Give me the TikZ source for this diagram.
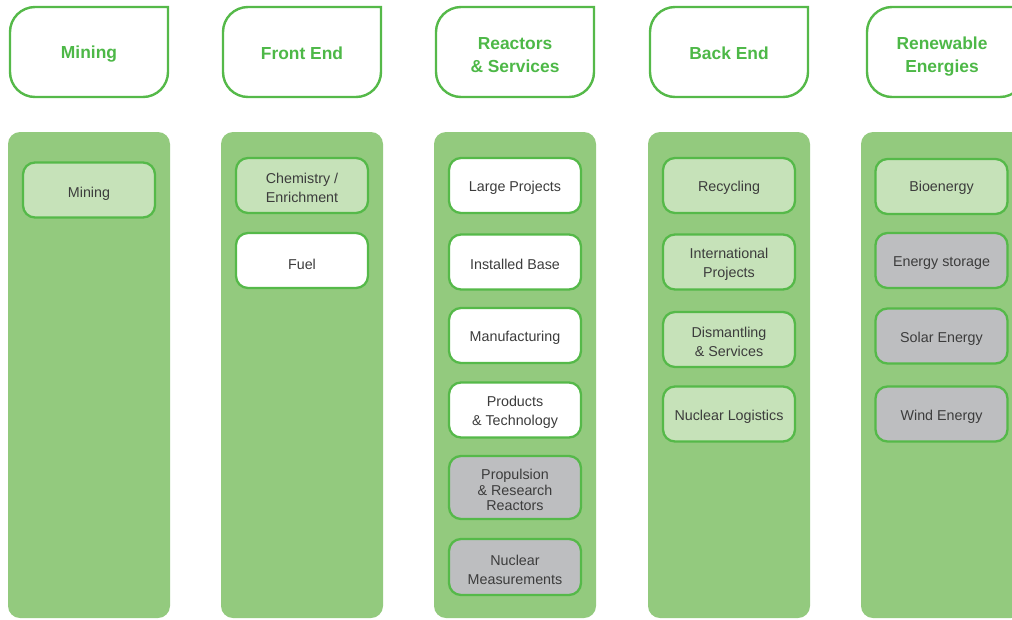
\documentclass[tikz,border=0pt]{standalone}
\usepackage{fontspec}
\setmainfont{Liberation Sans}
\definecolor{panelgreen}{HTML}{93CA7E}
\definecolor{leafgreen}{HTML}{C6E2B9}
\definecolor{edgegreen}{HTML}{55B949}
\definecolor{titlegreen}{HTML}{4DB847}
\definecolor{greybox}{HTML}{BDBEC0}
\definecolor{txt}{HTML}{3C3C3C}
% header tab: rounded on three corners, square at the top right
\newcommand{\headertab}[1]{%
  \draw[hdr] (#1+25,7) -- (#1+158,7) -- (#1+158,72)
    arc[start angle=0,end angle=90,radius=25] -- (#1+25,97)
    arc[start angle=90,end angle=180,radius=25] -- (#1,32)
    arc[start angle=180,end angle=270,radius=25] -- cycle;}
% a rounded item box with its label set slightly below the centre
% #1 label options, #2 box style, #3 name, #4 x, #5 y, #6 label
\newcommand{\itembox}[6][]{%
  \node[#2] (#3) at (#4,#5) {};
  \node[celltext,#1] (#3-t) at ([yshift=-2.5pt]#3.center) {#6};}
\tikzset{
  panel/.style={fill=panelgreen, rounded corners=12pt},
  hdr/.style={draw=edgegreen, line width=2.4pt, fill=white},
  hdrtext/.style={font=\bfseries\fontsize{17.4}{23}\selectfont, text=titlegreen, align=center},
  item/.style={draw=edgegreen, line width=2.3pt, rounded corners=12pt,
    minimum width=132pt, minimum height=55pt, inner sep=0pt},
  celltext/.style={inner sep=0pt, align=center,
    font=\fontsize{14.3}{19}\selectfont, text=txt},
  leaf/.style={item, fill=leafgreen},
  blank/.style={item, fill=white},
  grey/.style={item, fill=greybox},
}
\begin{document}
\begin{tikzpicture}[x=1pt,y=-1pt]
\useasboundingbox (0,0) rectangle (1012,619);
\clip (0,0) rectangle (1012,619);

% column panels
\fill[panel] (8,132) rectangle (170,618);
\fill[panel] (221,132) rectangle (383,618);
\fill[panel] (434,132) rectangle (596,618);
\fill[panel] (648,132) rectangle (810,618);
\fill[panel] (861,132) rectangle (1023,618);

% column headers
\headertab{10}
\headertab{223}
\headertab{436}
\headertab{650}
\headertab{867}
\node[hdrtext] (hMining) at (89,54) {Mining};
\node[hdrtext] (hFront) at (302,53.5) {Front End};
\node[hdrtext] (hReact) at (515,55) {Reactors\\\& Services};
\node[hdrtext] (hBack) at (729,53.5) {Back End};
\node[hdrtext] (hRenew) at (942,57) {Renewable\\Energies};

% Mining
\itembox[yshift=-1pt]{leaf}{mining}{89}{190}{Mining}

% Front End
\itembox{leaf}{chem}{302}{185.5}{Chemistry /\\Enrichment}
\itembox[yshift=-1pt]{blank}{fuel}{302}{260.5}{Fuel}

% Reactors & Services
\itembox{blank}{large}{515}{185.5}{Large Projects}
\itembox{blank}{installed}{515}{262}{Installed Base}
\itembox{blank}{manuf}{515}{335.5}{Manufacturing}
\itembox{blank}{products}{515}{410}{Products\\\& Technology}
\itembox[font=\fontsize{14.3}{15.5}\selectfont]{grey, minimum height=63pt}{propulsion}{515}{487.5}{Propulsion\\\& Research\\Reactors}
\itembox{grey, minimum height=56pt}{measure}{515}{567}{Nuclear\\Measurements}

% Back End
\itembox{leaf}{recycling}{729}{185.5}{Recycling}
\itembox{leaf}{intl}{729}{262}{International\\Projects}
\itembox{leaf}{dismantle}{729}{339.5}{Dismantling\\\& Services}
\itembox{leaf}{logistics}{729}{414}{Nuclear Logistics}

% Renewable Energies
\itembox[yshift=1pt]{leaf}{bio}{941.5}{186.5}{Bioenergy}
\itembox{grey}{storage}{941.5}{260.5}{Energy storage}
\itembox{grey}{solar}{941.5}{336}{Solar Energy}
\itembox{grey}{wind}{941.5}{414}{Wind Energy}
\end{tikzpicture}
\end{document}
